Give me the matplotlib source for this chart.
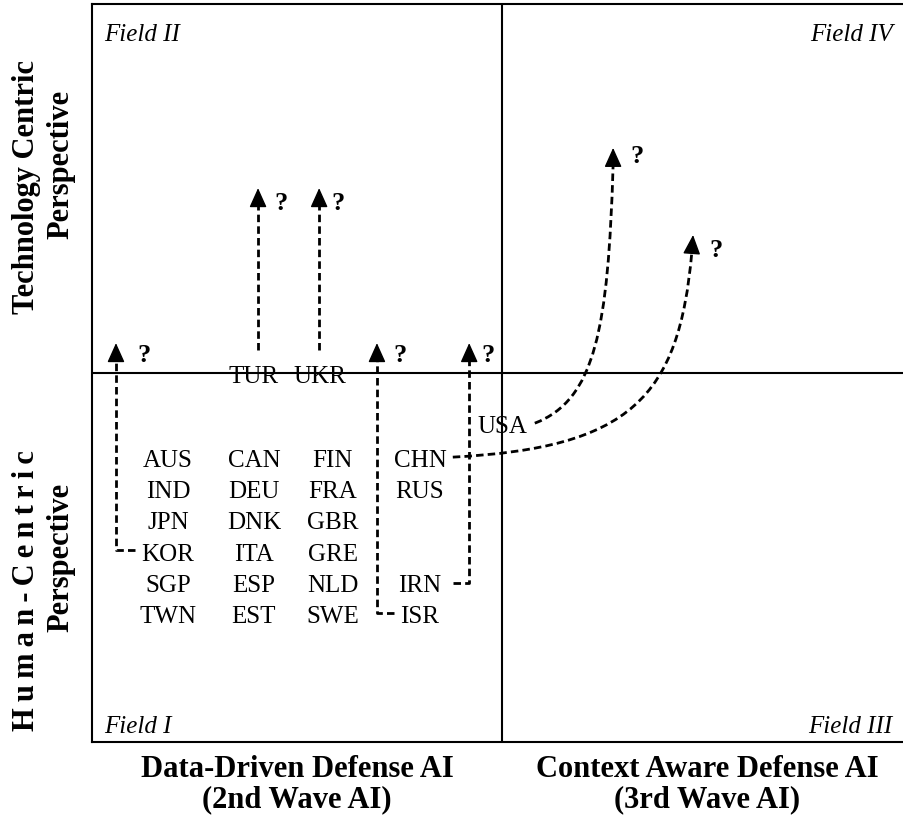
import matplotlib
matplotlib.use("Agg")
import matplotlib.pyplot as plt
from matplotlib.path import Path
from matplotlib.patches import PathPatch

plt.rcParams["font.family"] = ["Liberation Serif", "DejaVu Serif"]

# Countries in the Field I block, one list per column
col_names = [
    ["AUS", "IND", "JPN", "KOR", "SGP", "TWN"],
    ["CAN", "DEU", "DNK", "ITA", "ESP", "EST"],
    ["FIN", "FRA", "GBR", "GRE", "NLD", "SWE"],
    ["CHN", "RUS", "", "", "IRN", "ISR"],
]
col_x = [0.185, 0.395, 0.587, 0.80]
row_y = [0.745, 0.6605, 0.576, 0.4915, 0.407, 0.3225]

# Countries sitting on the field borders
edge_names = ["TUR", "UKR", "USA"]
edge_x = [0.393, 0.555, 1.0]
edge_y = [0.973, 0.973, 0.837]

# Straight (elbow) moves: path points up to the arrow base, then the tip
moves = {
    "KOR": ([0.105, 0.0585, 0.0585], [0.520, 0.520, 1.035], (0.0585, 1.081)),
    "TUR": ([0.405, 0.405], [1.062, 1.463], (0.405, 1.501)),
    "UKR": ([0.554, 0.554], [1.062, 1.463], (0.554, 1.501)),
    "ISR": ([0.737, 0.695, 0.695], [0.350, 0.350, 1.035], (0.695, 1.081)),
    "IRN": ([0.880, 0.920, 0.920], [0.431, 0.431, 1.035], (0.920, 1.081)),
}

# Curved moves (cubic bezier control points) and arrow tips
curves = {
    "USA": ([(1.080, 0.864), (1.227, 0.927), (1.259, 1.117), (1.271, 1.564)], (1.271, 1.610)),
    "CHN": ([(0.880, 0.772), (1.312, 0.797), (1.432, 0.932), (1.463, 1.328)], (1.466, 1.374)),
}

# "?" marks next to each arrow
q_x = [0.127, 0.461, 0.600, 0.751, 0.966, 1.329, 1.522]
q_y = [1.030, 1.442, 1.442, 1.030, 1.030, 1.569, 1.314]

fig = plt.figure(figsize=(9.04, 8.25), dpi=100)
ax = fig.add_axes([92 / 904, 83 / 825, 820 / 904, 738 / 825])
ax.set_xlim(0, 2)
ax.set_ylim(0, 2)
ax.set_xticks([])
ax.set_yticks([])
for s in ["left", "top", "bottom", "right"]:
    ax.spines[s].set_linewidth(1.5)
ax.axvline(1, color="black", lw=1.5)
ax.axhline(1, color="black", lw=1.5)

dash = (0, (2.7, 1.5))
head = dict(arrowstyle="-|>,head_length=0.6,head_width=0.27", mutation_scale=20,
            fc="black", ec="black", lw=1, shrinkA=0, shrinkB=0)

# Country labels
for names, x in zip(col_names, col_x):
    for n, y in zip(names, row_y):
        if n:
            ax.text(x, y, n, ha="center", va="baseline", fontsize=18)
for n, x, y in zip(edge_names, edge_x, edge_y):
    ax.text(x, y, n, ha="center", va="baseline", fontsize=18)

# Straight arrows
for key, (xs, ys, tip) in moves.items():
    ax.plot(xs, ys, color="black", lw=2.0, linestyle=dash)
    ax.annotate("", xy=tip, xytext=(xs[-1], ys[-1]), arrowprops=head)

# Curved arrows
for key, (pts, tip) in curves.items():
    path = Path(pts, [Path.MOVETO, Path.CURVE4, Path.CURVE4, Path.CURVE4])
    ax.add_patch(PathPatch(path, fill=False, color="black", lw=2.0, linestyle=dash))
    ax.annotate("", xy=tip, xytext=pts[-1], arrowprops=head)

for x, y in zip(q_x, q_y):
    ax.text(x, y, "?", ha="center", va="baseline", fontsize=19, fontweight="bold")

# Field names
ax.text(0.029, 1.90, "Field II", ha="left", va="baseline", fontsize=18, style="italic")
ax.text(1.953, 1.90, "Field IV", ha="right", va="baseline", fontsize=18, style="italic")
ax.text(0.029, 0.024, "Field I", ha="left", va="baseline", fontsize=18, style="italic")
ax.text(1.953, 0.024, "Field III", ha="right", va="baseline", fontsize=18, style="italic")

# Axis captions
ax.text(0.5, -0.095, "Data-Driven Defense AI", ha="center", va="baseline",
        fontsize=22, fontweight="bold")
ax.text(0.5, -0.176, "(2nd Wave AI)", ha="center", va="baseline",
        fontsize=22, fontweight="bold")
ax.text(1.5, -0.095, "Context Aware Defense AI", ha="center", va="baseline",
        fontsize=22, fontweight="bold")
ax.text(1.5, -0.176, "(3rd Wave AI)", ha="center", va="baseline",
        fontsize=22, fontweight="bold")

side = dict(rotation=90, rotation_mode="anchor", ha="center", va="baseline",
            fontsize=22, fontweight="bold")
ax.text(-0.142, 1.503, "Technology Centric", **side)
ax.text(-0.0585, 1.564, "Perspective", **side)
ax.text(-0.142, 0.410, "\u2009".join("Human-Centric"), **side)
ax.text(-0.0585, 0.499, "Perspective", **side)

fig.savefig("out.png", dpi=100)
